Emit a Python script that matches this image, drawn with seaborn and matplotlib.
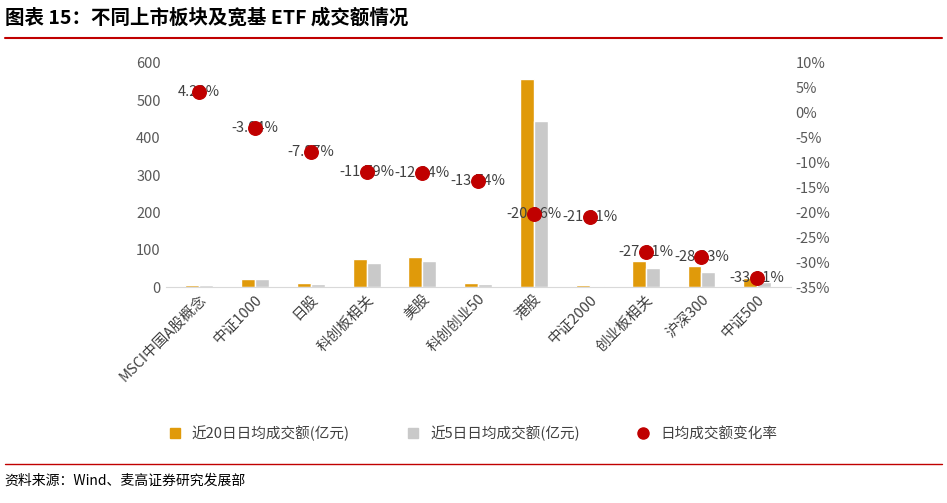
import pandas as pd
import matplotlib.pyplot as plt
import seaborn as sns
from matplotlib.patches import Patch
from matplotlib.lines import Line2D

categories = ['MSCI中国A股概念', '中证1000', '日股', '科创板相关', '美股', '科创创业50',
              '港股', '中证2000', '创业板相关', '沪深300', '中证500']
amt_20d = [5, 22, 10, 75, 80, 10, 557, 5, 70, 58, 25]
amt_5d = [5, 22, 8, 66, 71, 8, 445, 3, 52, 40, 15]
chg_pct = [4.20, -3.04, -7.87, -11.79, -12.04, -13.74, -20.26, -21.01, -27.91, -28.93, -33.11]

s20 = '近20日日均成交额(亿元)'
s5 = '近5日日均成交额(亿元)'
df = pd.DataFrame({'cat': categories * 2,
                   'val': amt_20d + amt_5d,
                   'series': [s20] * len(categories) + [s5] * len(categories)})

sns.set_style('white')
plt.rcParams['font.family'] = ['Noto Sans CJK SC', 'DejaVu Sans']
plt.rcParams['axes.unicode_minus'] = False

fig = plt.figure(figsize=(9.47, 5.03), dpi=100)
ax = fig.add_axes([0.175, 0.429, 0.66, 0.446])
sns.barplot(data=df, x='cat', y='val', hue='series', palette=['#E09A0A', '#C9C9C9'],
            saturation=1, width=0.5, ax=ax, legend=False)
ax.set_ylim(0, 600)
ax.set_xlim(-0.6, len(categories) - 0.4)
ax.set_xlabel('')
ax.set_ylabel('')
for s in ['top', 'right', 'left']:
    ax.spines[s].set_visible(False)
ax.spines['bottom'].set_color('#D9D9D9')
ax.tick_params(axis='y', colors='#595959', labelsize=10.5, length=0)
ax.tick_params(axis='x', colors='#404040', labelsize=10.5, length=0, rotation=45)
for lbl in ax.get_xticklabels():
    lbl.set_ha('right')
    lbl.set_rotation_mode('anchor')

ax2 = ax.twinx()
ax2.scatter(range(len(categories)), chg_pct, s=95, color='#C00000', zorder=5)
for i, v in enumerate(chg_pct):
    ax2.text(i, v, f'{v:.2f}%', ha='center', va='center', fontsize=10.5, color='#404040', zorder=4)
ax2.set_ylim(-35, 10)
ax2.set_yticks(range(-35, 11, 5))
ax2.set_yticklabels([f'{t}%' for t in range(-35, 11, 5)])
ax2.tick_params(axis='y', colors='#595959', labelsize=10.5, length=0)
for s in ax2.spines.values():
    s.set_visible(False)

handles = [Patch(color='#E09A0A', label=s20), Patch(color='#C9C9C9', label=s5),
           Line2D([], [], marker='o', ls='', color='#C00000', markersize=8, label='日均成交额变化率')]
fig.legend(handles=handles, loc='center', bbox_to_anchor=(0.5, 0.138), ncol=3, frameon=False,
           fontsize=10.5, handlelength=0.7, columnspacing=4, labelcolor='#404040')

fig.text(0.005, 0.965, '图表 15：不同上市板块及宽基 ETF 成交额情况', fontsize=14, fontweight='bold',
         va='center', color='#000000')
fig.add_artist(Line2D([0.005, 0.995], [0.925, 0.925], color='#C00000', lw=1.5))
fig.add_artist(Line2D([0.005, 0.995], [0.077, 0.077], color='#C00000', lw=1))
fig.text(0.005, 0.045, '资料来源：Wind、麦高证券研究发展部', fontsize=10, va='center', color='#000000')

fig.savefig('out.png', dpi=100)
